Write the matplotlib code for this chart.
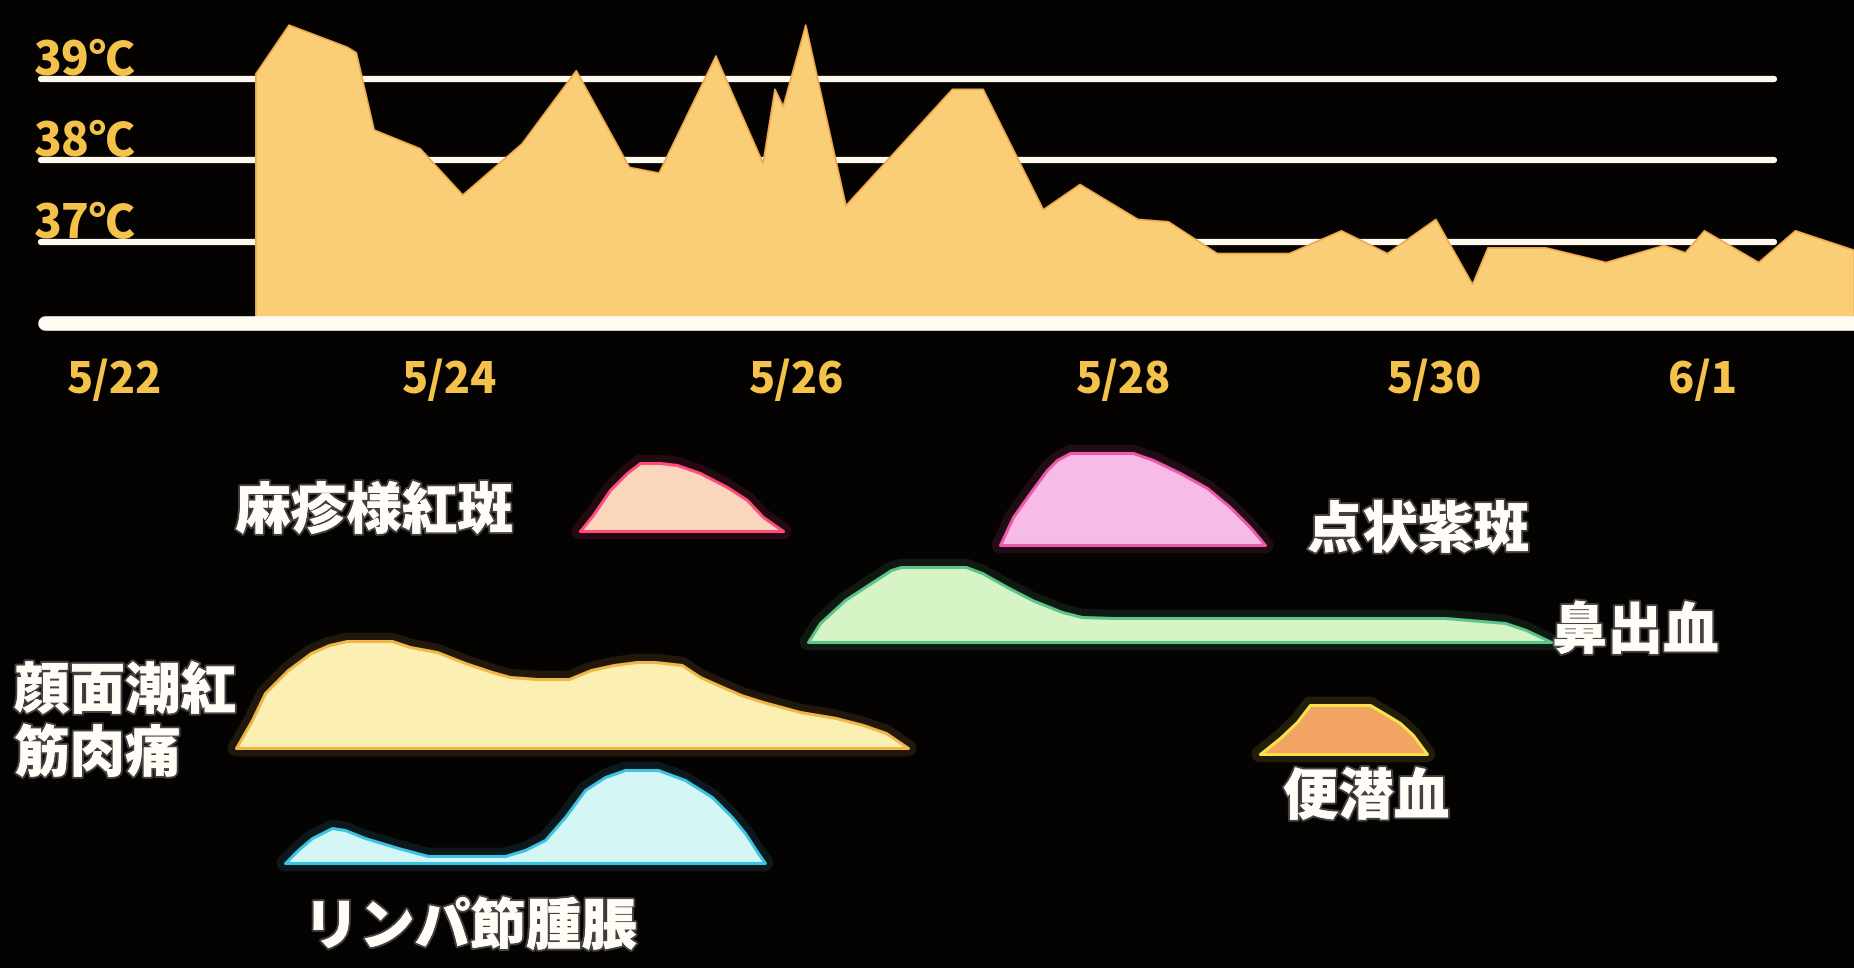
import numpy as np
import matplotlib.pyplot as plt
import matplotlib.patheffects as pe

plt.rcParams['font.family'] = ['Noto Sans CJK JP', 'DejaVu Sans']

#-----------------------------------DATA (x = days after 5/22)
date_pos = [0, 2.11, 4.29, 6.35, 8.31, 10]            # where the date labels sit
date_labels = ["5/22", "5/24", "5/26", "5/28", "5/30", "6/1"]
temp_lines = [37, 38, 39]
temp_labels = ["37℃", "38℃", "39℃"]

temp_day = [0.884, 1.093, 1.458, 1.517, 1.629, 1.919, 2.187, 2.560, 2.902, 3.237, 3.423,
            3.781, 4.078, 4.153, 4.205, 4.347, 4.600, 5.270, 5.464, 5.843, 6.074, 6.439,
            6.632, 6.938, 7.392, 7.720, 8.010, 8.315, 8.546, 8.643, 9.008, 9.387, 9.752,
            9.886, 10.006, 10.348, 10.579, 10.95]
temp_c = [39.07, 39.67, 39.40, 39.33, 38.38, 38.15, 37.58, 38.21, 39.11, 37.92, 37.85,
          39.29, 37.97, 38.88, 38.67, 39.67, 37.45, 38.88, 38.88, 37.40, 37.71, 37.28,
          37.25, 36.86, 36.86, 37.14, 36.86, 37.28, 36.48, 36.93, 36.93, 36.75, 36.96,
          36.87, 37.14, 36.75, 37.14, 36.90]

# symptom intensity profiles (arbitrary height units)
rash_day = [2.928, 3.010, 3.117, 3.224, 3.306, 3.432, 3.539, 3.684, 3.854, 3.980, 4.081, 4.207]
rash_h = [0, 1.6, 4.1, 5.8, 6.8, 6.8, 6.6, 5.8, 4.4, 3.1, 1.4, 0]

purpura_day = [5.573, 5.655, 5.762, 5.869, 5.932, 6.014, 6.411, 6.537, 6.707, 6.877, 7.021, 7.147, 7.242]
purpura_h = [0, 2.8, 5.2, 7.5, 8.5, 9.2, 9.2, 8.5, 7.2, 5.7, 3.8, 1.8, 0]

nose_day = [4.364, 4.440, 4.597, 4.761, 4.887, 4.950, 5.359, 5.460, 5.617, 5.775, 5.963,
            6.089, 6.278, 8.375, 8.753, 8.885, 9.043]
nose_h = [0, 1.9, 4.2, 5.9, 7.2, 7.5, 7.5, 6.9, 5.5, 4.2, 3.0, 2.5, 2.4, 2.4, 1.9, 1.2, 0]

flush_day = [0.762, 0.863, 0.945, 1.089, 1.234, 1.348, 1.461, 1.744, 1.858, 2.028, 2.204,
             2.374, 2.487, 2.657, 2.859, 2.997, 3.142, 3.287, 3.401, 3.570, 3.684, 3.797,
             3.942, 4.081, 4.314, 4.540, 4.710, 4.855, 4.994]
flush_h = [0, 2.8, 5.5, 7.8, 9.5, 10.3, 10.7, 10.7, 10.1, 9.6, 8.5, 7.6, 7.1, 6.9, 6.9,
           7.8, 8.3, 8.6, 8.6, 8.3, 7.1, 6.3, 5.3, 4.6, 3.6, 3.0, 2.3, 1.5, 0]

lymph_day = [1.071, 1.152, 1.241, 1.367, 1.448, 1.574, 1.782, 1.971, 2.456, 2.582, 2.708,
             2.834, 2.960, 3.086, 3.212, 3.419, 3.589, 3.759, 3.885, 3.967, 4.049, 4.093]
lymph_h = [0, 1.3, 2.5, 3.5, 3.3, 2.5, 1.5, 0.7, 0.7, 1.3, 2.3, 4.6, 7.3, 8.6, 9.3, 9.3,
           8.3, 6.6, 4.6, 3.0, 1.0, 0]

stool_day = [7.210, 7.336, 7.443, 7.525, 7.903, 8.010, 8.092, 8.174, 8.262]
stool_h = [0, 1.6, 3.2, 4.9, 4.9, 3.9, 3.1, 1.9, 0]

#-----------------------------------FIGURE
fig = plt.figure(figsize=(18.54, 9.68), dpi=100, facecolor='#050202')
xmin, xmax = -0.724, 10.951

#-----------------------------------Temperature panel
ax_t = fig.add_axes([0, 1 - 340 / 968, 1, 340 / 968])
ax_t.set_facecolor('none')
ax_t.set_xlim(xmin, xmax)
ax_t.set_ylim(35.79, 39.973)
for s in ax_t.spines.values():
    s.set_visible(False)

ax_t.hlines(temp_lines, -0.466, 10.447, color='#FFF8EC', lw=4.5, capstyle='round', zorder=1)
ax_t.fill_between(temp_day, temp_c, 36, facecolor='#F9CE76', edgecolor='#EDA84A',
                  lw=1.2, zorder=2)
ax_t.hlines(36, -0.44, xmax + 0.1, color='#FFFBF2', lw=10.5, capstyle='round', zorder=3)

for t, lab in zip(temp_lines, temp_labels):
    ax_t.text(-0.51, t + 0.05, lab, ha='left', va='baseline', fontsize=33,
              fontweight='heavy', color='#F4C24A')

ax_t.set_xticks(date_pos, date_labels)
ax_t.tick_params(axis='x', length=0, pad=13, labelsize=31, labelcolor='#F4C24A')
for lbl in ax_t.get_xticklabels():
    lbl.set_fontweight('heavy')
ax_t.set_yticks([])

#-----------------------------------Symptom panel
ax_s = fig.add_axes([0, 0, 1, 1])
ax_s.set_facecolor('none')
ax_s.set_xlim(xmin, xmax)
ax_s.set_ylim(0, 96.8)
ax_s.axis('off')

symptoms = [
    # x, height, baseline, fill, edge
    (rash_day, rash_h, 43.7, '#F9D6BC', '#FF4C7C'),
    (purpura_day, purpura_h, 42.3, '#F7BCE6', '#EE58A8'),
    (nose_day, nose_h, 32.6, '#D6F4C6', '#5CC48A'),
    (flush_day, flush_h, 22.0, '#FBF0B2', '#EFB648'),
    (lymph_day, lymph_h, 10.5, '#D4F7F6', '#3EC2E4'),
    (stool_day, stool_h, 21.4, '#F2A462', '#F8E24A'),
]
for x, h, base, fc, ec in symptoms:
    top = base + np.array(h)
    ax_s.fill_between(x, top, base, facecolor='none', edgecolor=ec, lw=12, alpha=0.12)
    ax_s.fill_between(x, top, base, facecolor=fc, edgecolor=ec, lw=2.2)

glow = [pe.withStroke(linewidth=3, foreground=(1, 1, 1, 0.25))]
labels = [
    ("麻疹様紅斑", 1.631, 45.6, 'center'),
    ("点状紫斑", 8.205, 43.7, 'center'),
    ("鼻出血", 9.049, 33.6, 'left'),
    ("顔面潮紅", -0.636, 27.6, 'left'),
    ("筋肉痛", -0.636, 21.3, 'left'),
    ("便潜血", 7.878, 17.0, 'center'),
    ("リンパ節腫脹", 2.236, 4.0, 'center'),
]
for txt, x, y, ha in labels:
    ax_s.text(x, y, txt, ha=ha, va='center', fontsize=40, fontweight='heavy',
              color='#FFFDF6', path_effects=glow)

plt.savefig('out.png', dpi=100, facecolor=fig.get_facecolor())
